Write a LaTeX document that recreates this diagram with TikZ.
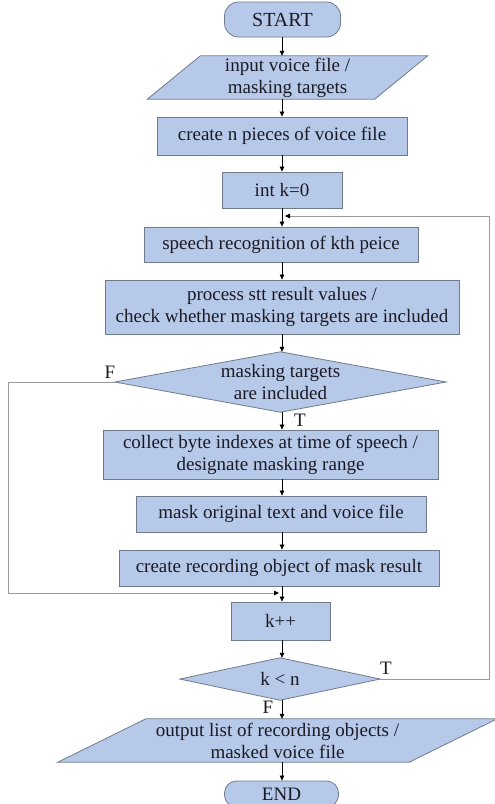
\documentclass[tikz,border=0pt]{standalone}
\usepackage{fontspec}
\setmainfont{Liberation Serif}
\usetikzlibrary{arrows.meta,calc,backgrounds}
\definecolor{fillc}{HTML}{B7C9E8}
\definecolor{linec}{HTML}{6F7B8C}
\definecolor{txtc}{HTML}{1A1A24}
\definecolor{loopc}{HTML}{9A9A9A}
\begin{document}
\begin{tikzpicture}[x=1pt,y=-1pt,
  every node/.style={font=\fontsize{19}{22}\selectfont, text=txtc},
  box/.style={draw=linec, fill=fillc, line width=0.8pt, inner sep=0pt, align=center},
  plain/.style={inner sep=0pt, align=center},
  shapeline/.style={draw=linec, fill=fillc, line width=0.8pt},
  arr/.style={draw=black, line width=0.7pt, -{Triangle[length=5pt,width=4.5pt]}},
  looparr/.style={draw=loopc, line width=0.8pt, -{Triangle[length=5pt,width=4.5pt,fill=black,color=black]}},
  lbl/.style={inner sep=0pt}]
\useasboundingbox (0,0) rectangle (495,804);

% nodes
\node[box, rounded corners=14pt, minimum width=116, minimum height=35, font=\fontsize{20}{22}\selectfont] (start) at (282.5,19.5) {START};
\node[plain, minimum width=227, minimum height=43] (in) at (287.5,77.5) {input voice file /\\masking targets};
\node[box, minimum width=250, minimum height=38] (pieces) at (282,136) {create n pieces of voice file};
\node[box, minimum width=120, minimum height=36] (init) at (282,190) {int k=0};
\node[box, minimum width=274, minimum height=35] (stt) at (281,244.5) {speech recognition of kth peice};
\node[box, minimum width=354, minimum height=54] (proc) at (282,307) {process stt result values /\\check whether masking targets are included};
\node[plain, minimum width=331, minimum height=60] (d1) at (280.5,382) {masking targets\\are included};
\node[box, minimum width=335, minimum height=49] (coll) at (270.5,454.5) {collect byte indexes at time of speech /\\designate masking range};
\node[box, minimum width=290, minimum height=36] (mask) at (281,514) {mask original text and voice file};
\node[box, minimum width=320, minimum height=36] (rec) at (279,568) {create recording object of mask result};
\node[box, minimum width=99, minimum height=38] (inc) at (280.5,621) {k++};
\node[plain, minimum width=200, minimum height=42] (d2) at (280,679) {k < n};
\node[plain, minimum width=351, minimum height=43] (out) at (277.5,740.5) {output list of recording objects /\\masked voice file};
\node[box, rounded corners=12pt, minimum width=114, minimum height=26, font=\fontsize{19}{22}\selectfont] (end) at (281.5,794) {END};

% shapes behind text
\begin{pgfonlayer}{background}
\draw[shapeline] ($(in.south west)+(-26.5,0)$) -- ($(in.north west)+(26.5,0)$) -- ($(in.north east)+(26.5,0)$) -- ($(in.south east)+(-26.5,0)$) -- cycle;
\draw[shapeline] ($(out.south west)+(-44,0)$) -- ($(out.north west)+(44,0)$) -- ($(out.north east)+(44,0)$) -- ($(out.south east)+(-44,0)$) -- cycle;
\draw[shapeline] (d1.north) -- (d1.east) -- (d1.south) -- (d1.west) -- cycle;
\draw[shapeline] (d2.north) -- (d2.east) -- (d2.south) -- (d2.west) -- cycle;
\end{pgfonlayer}

% spine
\coordinate (sp) at (282,0);
\draw[arr] (start.south -| sp) -- (in.north -| sp);
\draw[arr] (in.south -| sp) -- (pieces.north -| sp);
\draw[arr] (pieces.south -| sp) -- (init.north -| sp);
\draw[arr] (init.south -| sp) -- (stt.north -| sp);
\draw[arr] (stt.south -| sp) -- (proc.north -| sp);
\draw[arr] (proc.south -| sp) -- (d1.north -| sp);
\draw[arr] (d1.south -| sp) -- (coll.north -| sp);
\draw[arr] (coll.south -| sp) -- (mask.north -| sp);
\draw[arr] (mask.south -| sp) -- (rec.north -| sp);
\draw[arr] (rec.south -| sp) -- (inc.north -| sp);
\draw[arr] (inc.south -| sp) -- (d2.north -| sp);
\draw[arr] (d2.south -| sp) -- (out.north -| sp);
\draw[arr] (out.south -| sp) -- (end.north -| sp);

% loops
\coordinate (lf) at (8,593);
\coordinate (fin) at (279,593);
\draw[looparr] (d1.west) -| (lf) -- (fin);
\coordinate (rt) at (489,216);
\coordinate (loopin) at (285,216);
\draw[looparr] (d2.east) -| (rt) -- (loopin);

% labels
\node[lbl] (f1) at (110,372) {F};
\node[lbl] (t1) at (300,420) {T};
\node[lbl] (t2) at (386,668) {T};
\node[lbl] (f2) at (268,707) {F};
\end{tikzpicture}
\end{document}
